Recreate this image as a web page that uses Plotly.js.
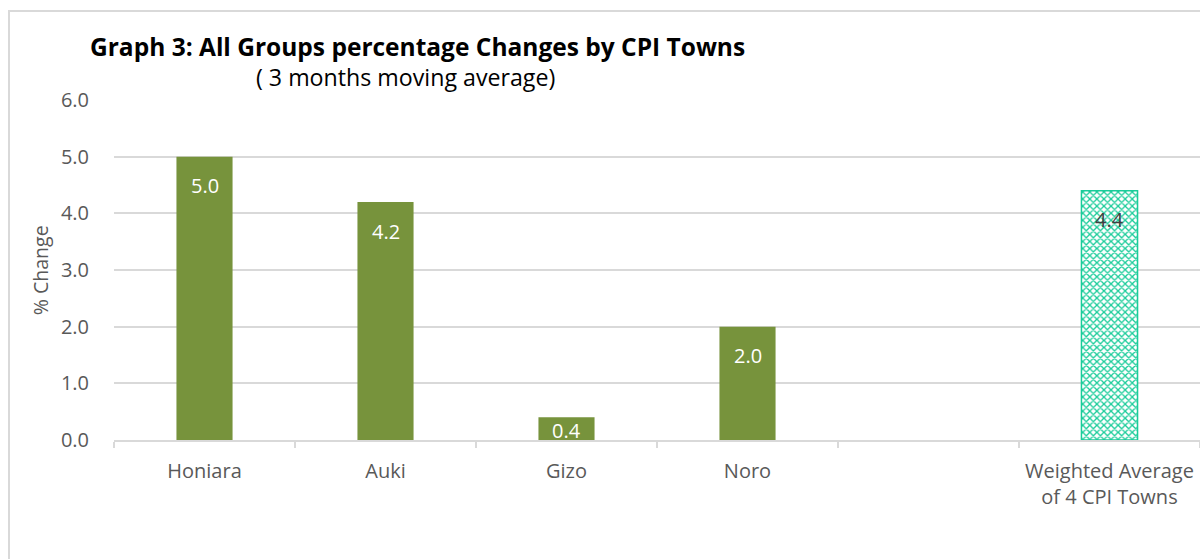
<!DOCTYPE html>
<html>
<head>
<meta charset="utf-8">
<script src="https://cdn.plot.ly/plotly-3.0.1.min.js"></script>
<style>
  html, body { margin: 0; padding: 0; background: #fff; }
  #frame { position: absolute; left: 8px; top: 10px; width: 1400px; height: 700px; border: 2px solid #d9d9d9; box-sizing: border-box; }
  #chart { position: absolute; left: 0; top: 0; width: 1200px; height: 559px; }
</style>
</head>
<body>
<div id="frame"></div>
<div id="chart"></div>
<script>
// Data
const categories = ["Honiara", "Auki", "Gizo", "Noro", " ", "Weighted Average<br>of 4 CPI Towns"];
const townValues = [5.0, 4.2, 0.4, 2.0, null, null];
const averageValues = [null, null, null, null, null, 4.4];
const yTickVals = [0, 1, 2, 3, 4, 5, 6];

const font = "Open Sans, Noto Sans, sans-serif";
const gray = "#595959";
const green = "#77933C";
const teal = "#19CC99";

const traces = [
  {
    type: "bar", x: categories, y: townValues,
    marker: { color: green }, width: 0.31, hoverinfo: "x+y"
  },
  {
    type: "bar", x: categories, y: averageValues,
    marker: { color: "#ffffff", line: { color: teal, width: 1.5 },
      pattern: { shape: "x", fgcolor: teal, bgcolor: "#ffffff", size: 5, solidity: 0.45 } },
    width: 0.31, hoverinfo: "x+y"
  }
];

const annotations = [];
categories.forEach((c, i) => {
  const v = townValues[i] != null ? townValues[i] : averageValues[i];
  if (v == null) return;
  const isAvg = averageValues[i] != null;
  annotations.push({
    x: c, y: v, xref: "x", yref: "y", text: v.toFixed(1), showarrow: false,
    yanchor: "middle", yshift: v < 1 ? -13 : -29,
    font: { family: font, size: 20, color: isAvg ? "#404040" : "#ffffff" }
  });
});
annotations.push({
  xref: "paper", yref: "paper", x: -0.0239, y: 1.158, xanchor: "left", yanchor: "middle",
  text: "<b>Graph 3: All Groups percentage Changes by CPI Towns</b>", showarrow: false,
  font: { family: font, size: 24.5, color: "#000000" }
});
annotations.push({
  xref: "paper", yref: "paper", x: 0.2680, y: 1.068, xanchor: "center", yanchor: "middle",
  text: "( 3 months moving average)", showarrow: false,
  font: { family: font, size: 23.2, color: "#000000" }
});
annotations.push({
  xref: "paper", yref: "paper", x: -0.068, y: 0.5, xanchor: "center", yanchor: "middle",
  text: "% Change", textangle: -90, showarrow: false,
  font: { family: font, size: 19.5, color: gray }
});

const layout = {
  width: 1200, height: 559,
  margin: { l: 114, r: 0, t: 100, b: 119 },
  paper_bgcolor: "rgba(0,0,0,0)", plot_bgcolor: "rgba(0,0,0,0)",
  showlegend: false, barmode: "overlay",
  font: { family: font, color: gray },
  xaxis: {
    type: "category", range: [-0.5, 5.5], tickson: "boundaries",
    ticks: "outside", ticklen: 6, tickcolor: "#d9d9d9", tickwidth: 2,
    ticklabelstandoff: 12,
    showline: true, linecolor: "#d9d9d9", linewidth: 2, showgrid: false,
    tickfont: { family: font, size: 20, color: gray }, fixedrange: true
  },
  yaxis: {
    range: [0, 6], tickvals: yTickVals, tickformat: ".1f",
    showgrid: true, gridcolor: "#d9d9d9", gridwidth: 2, zeroline: false,
    ticks: "outside", ticklen: 20, tickcolor: "rgba(0,0,0,0)",
    tickfont: { family: font, size: 20, color: gray }, fixedrange: true
  },
  annotations: annotations
};

Plotly.newPlot("chart", traces, layout, { displayModeBar: false, staticPlot: true });
</script>
</body>
</html>
